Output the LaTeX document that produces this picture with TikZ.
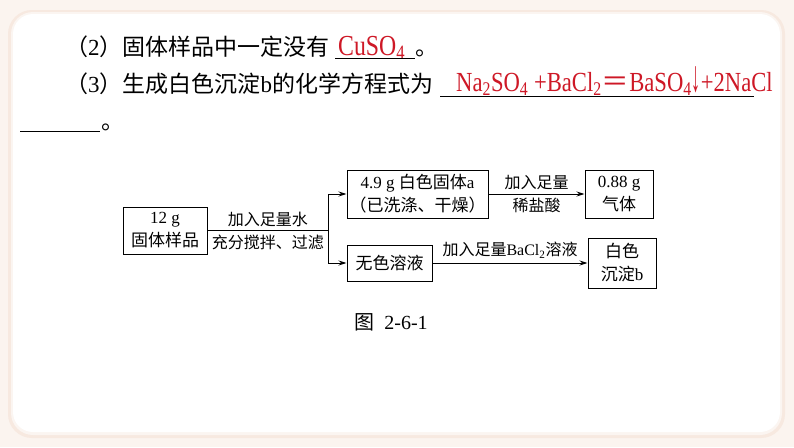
\documentclass[tikz,border=0pt]{standalone}
\usepackage{fontspec}
\usepackage{graphicx}
\setmainfont{Liberation Serif}
\newfontfamily\cjk{Noto Sans CJK SC}
\newfontfamily\redfont[FakeStretch=0.82]{Liberation Serif}
\usetikzlibrary{arrows.meta}
\definecolor{pagebg}{RGB}{251,244,239}
\definecolor{cardshade}{RGB}{247,233,224}
\definecolor{ansred}{RGB}{206,24,38}

\tikzset{
  box/.style={draw,line width=1pt,inner sep=2pt,align=center,font=\fontsize{17}{23}\selectfont},
  lab/.style={font=\fontsize{16}{20}\selectfont,inner sep=1pt},
  arr/.style={line width=0.9pt,-{Stealth[length=8pt,width=5pt]}},
  qtext/.style={anchor=base west,inner sep=0pt,font=\fontsize{23}{28}\selectfont},
  ans/.style={anchor=base west,inner sep=0pt,text=ansred,font=\redfont\fontsize{29}{30}\selectfont},
  blank/.style={line width=1pt}
}

\begin{document}
\begin{tikzpicture}[x=1pt,y=-1pt]
  \useasboundingbox (0,0) rectangle (794,447);
  % page and card
  \fill[pagebg] (0,0) rectangle (794,447);
  \fill[cardshade,rounded corners=24pt] (8,10) rectangle (785,438);
  \fill[white!55!cardshade,rounded corners=22pt] (11,12) rectangle (782,435);
  \fill[white,rounded corners=20pt] (13,14) rectangle (780,432);

  % question lines
  \node[qtext] (q2) at (65,55) {{\cjk （}2{\cjk ）固体样品中一定没有}};
  \node[ans] (a2) at (338,55) {CuSO\textsubscript{4}};
  \node[qtext] (p2) at (415,55) {\cjk 。};
  \draw[blank] (335,58) -- (415,58);

  \node[qtext] (q3) at (65,92) {{\cjk （}3{\cjk ）生成白色沉淀}b{\cjk 的化学方程式为}};
  \node[ans,font=\redfont\fontsize{27.6}{30}\selectfont] (a3) at (456,91) {Na\textsubscript{2}SO\textsubscript{4} +BaCl\textsubscript{2}{\cjk ＝}BaSO\textsubscript{4}\scalebox{0.8}[1.6]{↓}+2NaCl};
  \draw[blank] (440,96) -- (754,96);
  \draw[blank] (20,131) -- (100,131);
  \node[qtext] (p3) at (101,129) {\cjk 。};

  % flow chart
  \node[box,minimum width=84pt,minimum height=47pt] (sample) at (165,230.5) {12 g\\{\cjk 固体样品}};
  \node[box,minimum width=141pt,minimum height=48pt] (solidA) at (417.5,194) {4.9 g {\cjk 白色固体}a\\{\cjk （已洗涤、干燥）}};
  \node[box,minimum width=68pt,minimum height=48pt] (gas) at (619,194) {0.88 g\\{\cjk 气体}};
  \node[box,minimum width=85pt,minimum height=36pt] (soln) at (389.5,263) {\cjk 无色溶液};
  \node[box,minimum width=68pt,minimum height=50pt] (ppt) at (622,263) {{\cjk 白色}\\{\cjk 沉淀}b};
  \coordinate (j) at (328,230.5);

  \draw[line width=0.9pt] (sample.east) -- (j);
  \draw[line width=0.9pt] (j |- solidA.west) -- (j |- soln.west);
  \draw[arr] (j |- solidA.west) -- (solidA.west);
  \draw[arr] (j |- soln.west) -- (soln.west);
  \path (sample.east) -- (j) node[lab,midway,above=3pt] {\cjk 加入足量水}
    node[lab,midway,below=3pt] {\cjk 充分搅拌、过滤};
  \draw[arr] (solidA.east) -- (gas.west) node[lab,midway,above=3pt] {\cjk 加入足量}
    node[lab,midway,below=3pt] {\cjk 稀盐酸};
  \draw[arr] (soln.east) -- (ppt.west) node[lab,midway,above=3pt] {{\cjk 加入足量}BaCl\textsubscript{2}{\cjk 溶液}};

  \node[font=\fontsize{20}{22}\selectfont] (cap) at (391,322) {{\cjk 图}\enspace 2-6-1};
\end{tikzpicture}
\end{document}
